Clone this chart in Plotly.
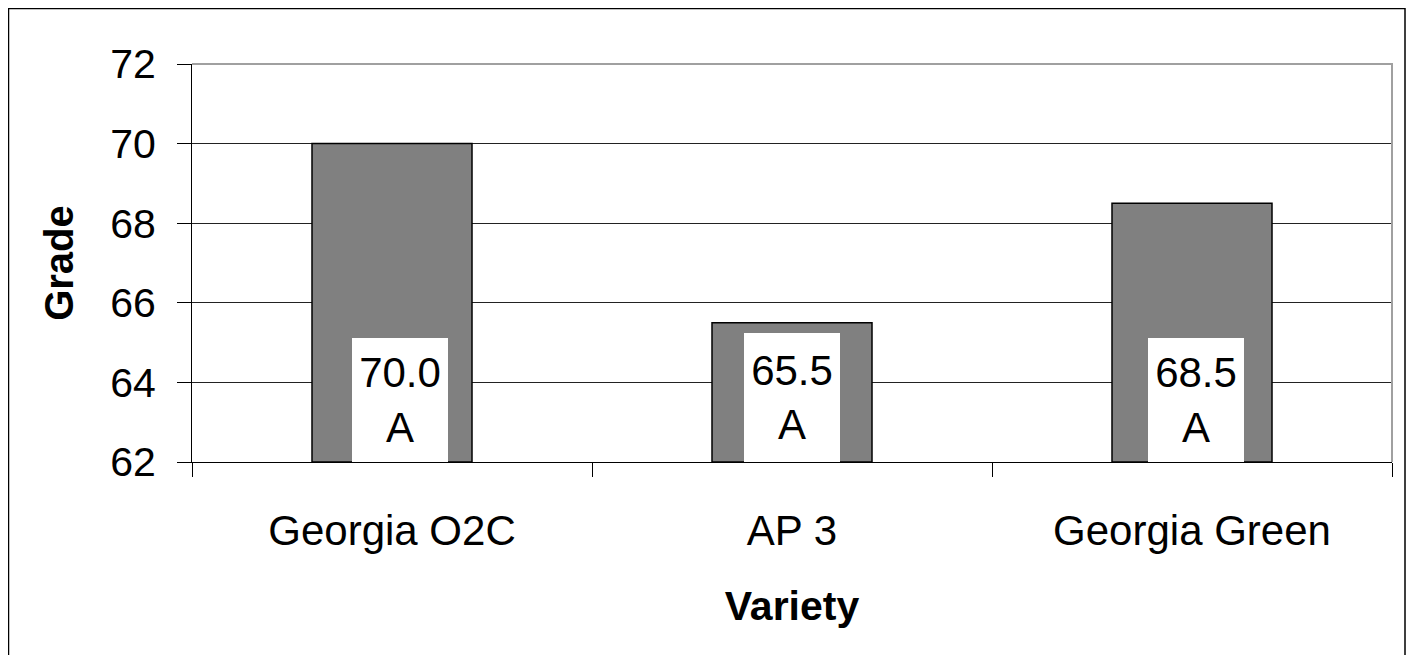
import plotly.graph_objects as go

categories = ["Georgia O2C", "AP 3", "Georgia Green"]
grades = [70.0, 65.5, 68.5]
letters = ["A", "A", "A"]
y_ticks = [62, 64, 66, 68, 70, 72]
y_min, y_max = 62, 72

# page body has an 8px margin, so figure coords = screen coords - 8
OFF = 8
W, H = 1416 - OFF, 655 - OFF
L, R, T, B = 192 - OFF, 1392 - OFF, 64 - OFF, 462 - OFF

FONT = "Liberation Sans, Arial, sans-serif"

fig = go.Figure()
fig.add_trace(go.Bar(
    x=categories, y=[g - y_min for g in grades], base=y_min, width=0.4,
    marker=dict(color="#808080", line=dict(color="black", width=1.5)),
    hoverinfo="skip",
))

box_heights = [108, 113, 108]
box_shifts = [8, 0, 4]
for c, g, l, bh, sh in zip(categories, grades, letters, box_heights, box_shifts):
    fig.add_annotation(
        x=c, y=y_min, xref="x", yref="y", yanchor="bottom", xshift=sh,
        text=f"{g:.1f}<br>{l}", showarrow=False,
        font=dict(family=FONT, size=42, color="black"),
        bgcolor="white", borderpad=8, borderwidth=0,
        width=80, height=bh, valign="middle",
    )

def px_x(X):
    return (X - L) / (R - L)

def px_y(Y):
    return (B - Y) / (B - T)

# outer frame (screen x 8..1405, top y 8, no bottom edge visible)
fig.add_shape(type="path", xref="paper", yref="paper",
              path=f"M {px_x(0.5)} {px_y(700)} L {px_x(0.5)} {px_y(0.5)} L {px_x(1397)} {px_y(0.5)} L {px_x(1397)} {px_y(700)}",
              line=dict(color="black", width=1.5))

fig.update_layout(
    width=W, height=H,
    margin=dict(l=L, r=W - R, t=T, b=H - B),
    paper_bgcolor="white", plot_bgcolor="white",
    showlegend=False,
    font=dict(family=FONT, size=40, color="black"),
    xaxis=dict(
        type="category", tickson="boundaries", ticks="outside", ticklen=14,
        tickcolor="black", tickwidth=1, showline=True, linecolor="black", linewidth=1,
        showgrid=False, ticklabelstandoff=32,
        tickfont=dict(size=42),
        title=dict(text="<b>Variety</b>", font=dict(size=41), standoff=37),
    ),
    yaxis=dict(
        range=[y_min, y_max], tickvals=y_ticks, ticks="outside", ticklen=14,
        tickcolor="black", tickwidth=1, showline=True, linecolor="black", linewidth=1,
        showgrid=True, gridcolor="#222222", gridwidth=1, zeroline=False,
        ticklabelstandoff=13,
        tickfont=dict(size=41),
        title=dict(text="<b>Grade</b>", font=dict(size=40), standoff=24),
    ),
)
# gray top and right plot border
fig.add_shape(type="path", xref="paper", yref="paper",
              path="M 0 1 L 1 1 L 1 0", line=dict(color="#a0a0a0", width=2), layer="above")

fig.write_html("out.html")
